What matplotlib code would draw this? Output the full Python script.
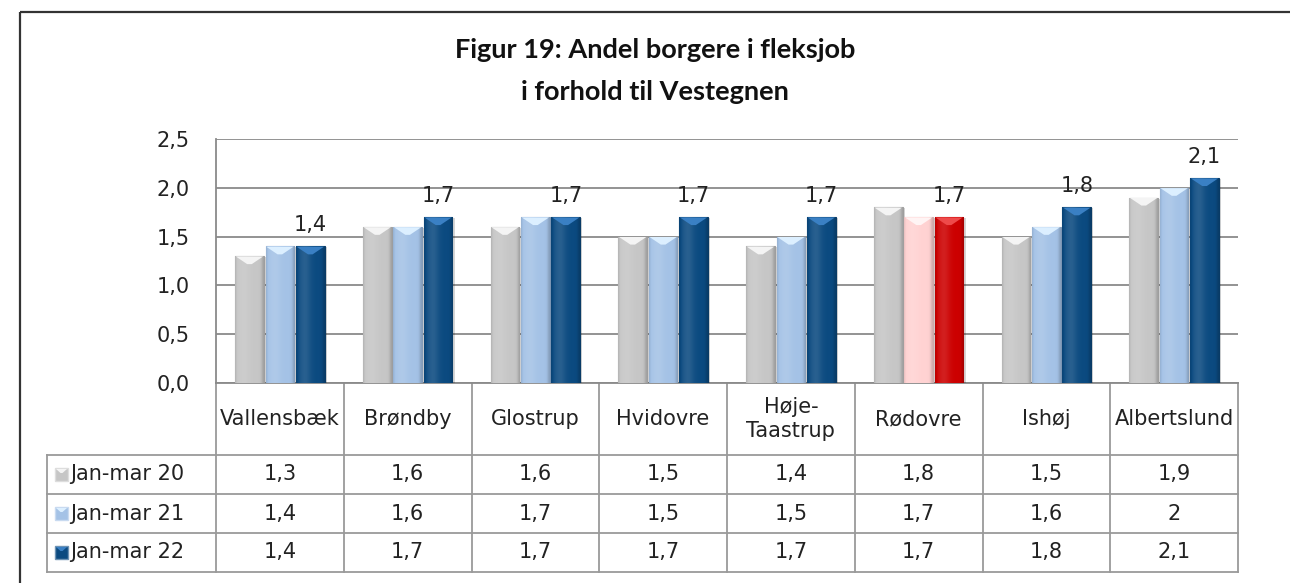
import numpy as np
import matplotlib
matplotlib.use("Agg")
import matplotlib.pyplot as plt
from matplotlib.patches import Rectangle, Polygon
from matplotlib import colors as mcolors

# data
categories = ["Vallensbæk", "Brøndby", "Glostrup", "Hvidovre", "Høje-\nTaastrup",
              "Rødovre", "Ishøj", "Albertslund"]
series_names = ["Jan-mar 20", "Jan-mar 21", "Jan-mar 22"]
jan_mar_20 = [1.3, 1.6, 1.6, 1.5, 1.4, 1.8, 1.5, 1.9]
jan_mar_21 = [1.4, 1.6, 1.7, 1.5, 1.5, 1.7, 1.6, 2.0]
jan_mar_22 = [1.4, 1.7, 1.7, 1.7, 1.7, 1.7, 1.8, 2.1]
series_values = [jan_mar_20, jan_mar_21, jan_mar_22]
y_ticks = [0.0, 0.5, 1.0, 1.5, 2.0, 2.5]
highlight = "Rødovre"

series_colors = ["#c6c6c6", "#a4c2e6", "#0b4a80"]
highlight_colors = ["#c6c6c6", "#ffd2d2", "#cc0000"]
top_colors = ["#f4f4f4", "#dcefff", "#3a80c4"]
highlight_top_colors = ["#f4f4f4", "#fff4f4", "#ee4a4a"]
title_lines = ["Figur 19: Andel borgere i fleksjob", "i forhold til Vestegnen"]


def fmt(v):
    return f"{v:g}".replace(".", ",")


def shade(col, f):
    rgb = np.array(mcolors.to_rgb(col))
    if f >= 1:
        return tuple(np.clip(rgb + (1 - rgb) * (f - 1), 0, 1))
    return tuple(rgb * f)


W, H = 1290, 583
fig = plt.figure(figsize=(W / 100, H / 100), dpi=100)
plt.rcParams["font.family"] = ["DejaVu Sans"]
fs = 15

plot_l, plot_r, plot_t, plot_b = 216, 1238, 139, 383
ax = fig.add_axes([plot_l / W, 1 - plot_b / H, (plot_r - plot_l) / W, (plot_b - plot_t) / H])

overlay = fig.add_axes([0, 0, 1, 1], zorder=-1)
overlay.set_xlim(0, W)
overlay.set_ylim(H, 0)
overlay.axis("off")

n = len(categories)
x = np.arange(n)
width = 0.225
step = 0.238
px_per_unit = (plot_b - plot_t) / 2.5
chev_h = 8 / px_per_unit

# horizontal shading profile for the bevelled look
prof_x = np.linspace(0, 1, 60)
profile = 1.0 + 0.12 * np.exp(-((prof_x - 0.3) / 0.22) ** 2) - 0.18 * np.exp(-((prof_x - 1.0) / 0.08) ** 2) \
    - 0.10 * np.exp(-(prof_x / 0.06) ** 2)

for s, vals in enumerate(series_values):
    for i, v in enumerate(vals):
        hl = categories[i] == highlight
        col = highlight_colors[s] if hl else series_colors[s]
        top_col = highlight_top_colors[s] if hl else top_colors[s]
        xc = x[i] + (s - 1) * step
        x0, x1 = xc - width / 2, xc + width / 2
        # soft shadow
        ax.add_patch(Rectangle((x0 + 0.018, 0), width, v - 0.01, color="#000000",
                               alpha=0.16, lw=0, zorder=2.8))
        bar = ax.bar(xc, v, width, color=col, edgecolor=shade(col, 0.8), linewidth=0.8, zorder=3)[0]
        img = np.array([[shade(col, f) for f in profile]])
        im = ax.imshow(img, extent=[x0, x1, 0, v], aspect="auto", zorder=3.1, interpolation="bilinear")
        im.set_clip_path(bar)
        ax.add_patch(Polygon([(x0 + 0.006, v - 0.004), (x1 - 0.006, v - 0.004),
                              (xc + width * 0.08, v - chev_h), (xc - width * 0.08, v - chev_h)],
                             closed=True, color=top_col, lw=0, zorder=3.2))
        if s == 2:
            ax.annotate(fmt(v), (xc, v), xytext=(0, 8), textcoords="offset points",
                        ha="center", va="bottom", fontsize=fs, color="#222222")

ax.set_xlim(-0.5, n - 0.5)
ax.set_ylim(0, 2.5)
ax.set_yticks(y_ticks)
ax.set_yticklabels([f"{t:.1f}".replace(".", ",") for t in y_ticks], fontsize=fs, color="#222222")
ax.set_xticks([])
ax.tick_params(axis="y", length=0, pad=19)
ax.yaxis.grid(True, color="#8a8a8a", lw=1.3)
ax.set_axisbelow(True)
for side in ["top", "right"]:
    ax.spines[side].set_visible(False)
for side in ["left", "bottom"]:
    ax.spines[side].set_color("#8a8a8a")
    ax.spines[side].set_linewidth(1.3)

# data table below the chart
line_col = "#9a9a9a"
col_edges = np.linspace(plot_l, plot_r, n + 1)
row_edges = [383, 455, 494, 533, 572]
label_left = 47
for ce in col_edges:
    overlay.plot([ce, ce], [row_edges[0], row_edges[-1]], color=line_col, lw=1.3)
for re_ in row_edges[1:]:
    overlay.plot([label_left, plot_r], [re_, re_], color=line_col, lw=1.3)
overlay.plot([label_left, label_left], [row_edges[1], row_edges[-1]], color=line_col, lw=1.3)

for i, cat in enumerate(categories):
    cx = (col_edges[i] + col_edges[i + 1]) / 2
    overlay.text(cx, (row_edges[0] + row_edges[1]) / 2, cat, ha="center", va="center",
                 fontsize=fs, color="#222222", linespacing=1.25)

for s, name in enumerate(series_names):
    cy = (row_edges[s + 1] + row_edges[s + 2]) / 2
    overlay.add_patch(Rectangle((55, cy - 6.5), 13, 13, facecolor=series_colors[s],
                                edgecolor=shade(series_colors[s], 1.4), lw=1))
    overlay.add_patch(Polygon([(56, cy - 5.5), (67, cy - 5.5), (62.5, cy - 1.5), (60.5, cy - 1.5)],
                              closed=True, color=top_colors[s], lw=0))
    overlay.text(70, cy, name, ha="left", va="center", fontsize=fs, color="#222222")
    for i, v in enumerate(series_values[s]):
        cx = (col_edges[i] + col_edges[i + 1]) / 2
        overlay.text(cx, cy, fmt(v), ha="center", va="center", fontsize=fs, color="#222222")

# title
fig.text(655 / W, 1 - 50 / H, title_lines[0], ha="center", va="center", fontsize=19.5,
         fontweight="bold", family=["Lato", "DejaVu Sans"], color="#111111")
fig.text(655 / W, 1 - 92 / H, title_lines[1], ha="center", va="center", fontsize=19.5,
         fontweight="bold", family=["Lato", "DejaVu Sans"], color="#111111")

# outer chart border
overlay.add_patch(Rectangle((20, 12), 1300, 600, fill=False, ec="#333333", lw=1.6, clip_on=False))

fig.savefig("out.png", dpi=100)
